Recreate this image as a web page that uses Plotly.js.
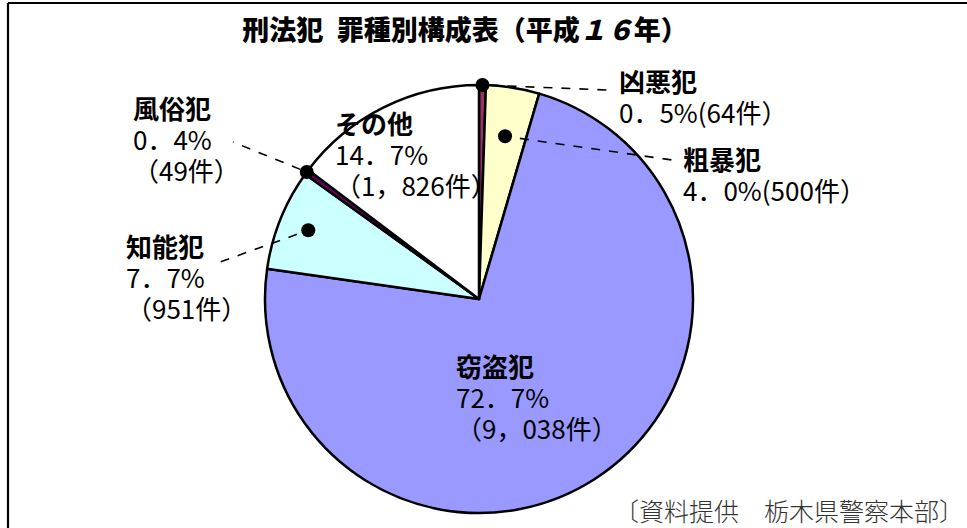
<!DOCTYPE html>
<html><head><meta charset="utf-8">
<script src="https://cdn.plot.ly/plotly-3.0.1.min.js"></script>
<style>html,body{margin:0;padding:0;background:#fff}#c{width:967px;height:528px}</style>
</head><body><div id="c"></div>
<script>
// ---- data ----
const categories = ['凶悪犯','粗暴犯','窃盗犯','知能犯','風俗犯','その他'];
const counts = [64, 500, 9038, 951, 49, 1826];
const percentLabels = ['0．5%','4．0%','72．7%','7．7%','0．4%','14．7%'];
const countLabels = ['64件','500件','9，038件','951件','49件','1，826件'];
const titleText = '刑法犯\u2002罪種別構成表（平成<i>１６</i>年）';
const sourceText = '〔資料提供　栃木県警察本部〕';

// ---- styles / layout ----
const colors = ['#993366','#FFFFCC','#9999FF','#CCFFFF','#660066','#FFFFFF'];
const W = 967, H = 528;
const CX = 479, CY = 299, R = 214;
const FONT = '"Noto Sans CJK JP", "Noto Sans", sans-serif';
const px = x => x / W, py = y => 1 - y / H;

const total = counts.reduce((a, b) => a + b, 0);
let cum = 0;
const mids = counts.map(c => { const m = (cum + c / 2) / total; cum += c; return m * 2 * Math.PI; });
const polar = (i, f) => [CX + Math.sin(mids[i]) * R * f, CY - Math.cos(mids[i]) * R * f];

// label placement (pixels): left x, first line centre y, leader settings
const BASE = 24;           // sets line spacing (1.3 * BASE)
const LS = 1.3 * BASE;
const GLYPH = 26;          // visible glyph size
const labelCfg = [
  {i:0, x:617, y:80,  fmt:'inline', dot:1.0,  end:[608,90],  gap:7},
  {i:1, x:681, y:158, fmt:'inline', dot:0.77, end:[672,160], gap:15},
  {i:2, x:454, y:365, fmt:'block'},
  {i:3, x:124, y:245, fmt:'block',  dot:0.86, end:[220,262], gap:12},
  {i:4, x:131, y:107, fmt:'block',  dot:1.0,  end:[233,142], gap:7},
  {i:5, x:333, y:122, fmt:'block'}
];

const annotations = [];
const shapes = [];
labelCfg.forEach(c => {
  const lines = c.fmt === 'inline'
    ? ['<b>' + categories[c.i] + '</b>', percentLabels[c.i] + '(' + countLabels[c.i] + '）']
    : ['<b>' + categories[c.i] + '</b>', percentLabels[c.i], '（' + countLabels[c.i] + '）'];
  const txt = lines.map(t => '<span style="font-size:' + GLYPH + 'px">' + t + '</span>').join('<br>');
  annotations.push({
    text: txt, x: px(c.x), y: py(c.y + (lines.length - 1) * LS / 2), xref: 'paper', yref: 'paper',
    xanchor: 'left', yanchor: 'middle', align: 'left', showarrow: false,
    font: {family: FONT, size: BASE, color: '#000'}
  });
  if (c.dot !== undefined) {
    const [dx, dy] = polar(c.i, c.dot);
    const [ex, ey] = c.end;
    const L = Math.hypot(ex - dx, ey - dy);
    const sx = dx + (ex - dx) * c.gap / L, sy = dy + (ey - dy) * c.gap / L;
    shapes.push({type:'line', xref:'paper', yref:'paper', x0:px(sx), y0:py(sy), x1:px(ex), y1:py(ey),
      line:{color:'#000', width:1.6, dash:'dash'}, layer:'above'});
    const r = 7;
    shapes.push({type:'circle', xref:'paper', yref:'paper', x0:px(dx - r), x1:px(dx + r), y0:py(dy + r), y1:py(dy - r),
      fillcolor:'#000', line:{color:'#000', width:0}, layer:'above'});
  }
});

// frame (top and left edges)
shapes.push({type:'line', xref:'paper', yref:'paper', x0:px(8), y0:py(3), x1:px(967), y1:py(3), line:{color:'#000', width:2.2}});
shapes.push({type:'line', xref:'paper', yref:'paper', x0:px(8), y0:py(3), x1:px(8), y1:py(528), line:{color:'#000', width:2.2}});

annotations.push({
  text: sourceText, x: px(966), y: py(510), xref:'paper', yref:'paper',
  xanchor:'right', yanchor:'middle', showarrow:false,
  font:{family: FONT, size: 25, color:'#333', weight: 300}
});

const trace = {
  type: 'pie', values: counts, labels: categories, sort: false,
  direction: 'clockwise', rotation: 0, textinfo: 'none',
  hoverinfo: 'label+value+percent', showlegend: false,
  marker: {colors: colors, line: {color: '#000', width: 2.5}},
  domain: {x: [px(CX - R), px(CX + R)], y: [py(CY + R), py(CY - R)]}
};

const layout = {
  width: W, height: H, margin: {l:0, r:0, t:0, b:0},
  paper_bgcolor: '#fff', plot_bgcolor: '#fff', showlegend: false,
  title: {text: titleText, x: px(465), xanchor: 'center', y: py(31), yanchor: 'middle',
          xref: 'container', yref: 'container',
          font: {family: FONT, size: 27, color: '#000', weight: 900}},
  annotations: annotations, shapes: shapes
};

Plotly.newPlot('c', [trace], layout, {displayModeBar: false, staticPlot: true});
</script></body></html>
